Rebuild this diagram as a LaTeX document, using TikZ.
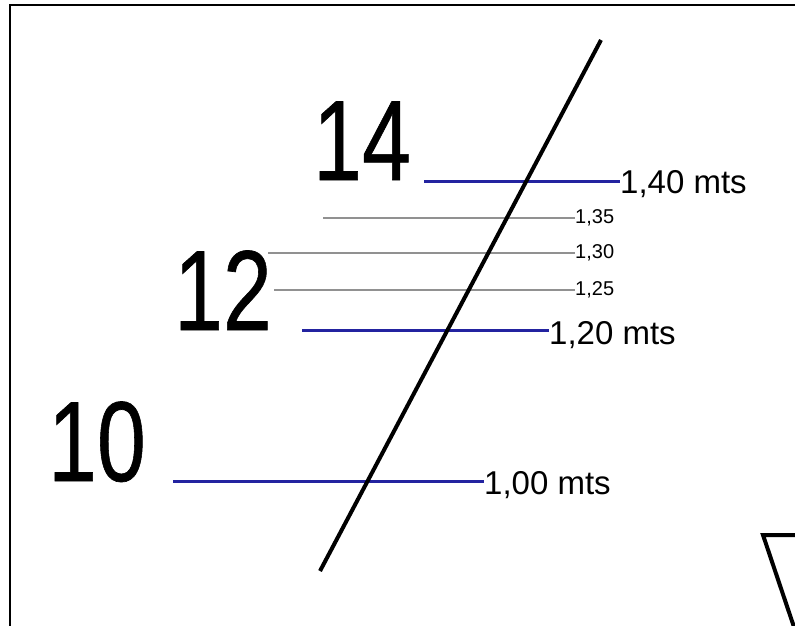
\documentclass[tikz,border=0pt]{standalone}
\usepackage{fontspec}
\setmainfont{Liberation Sans}
\newfontfamily\bignumfont[FakeBold=0.6]{Liberation Sans}
\usepackage{graphicx}
\definecolor{lvlblue}{RGB}{35,35,160}
\definecolor{lvlgray}{RGB}{145,145,145}
\begin{document}
\begin{tikzpicture}[x=1pt,y=-1pt,
  blueline/.style={draw=lvlblue,line width=3pt},
  grayline/.style={draw=lvlgray,line width=2.5pt},
  bignum/.style={anchor=base west,inner sep=0pt,font=\bignumfont\fontsize{114}{114}\selectfont},
  biglab/.style={anchor=base west,inner sep=0pt,font=\fontsize{33}{33}\selectfont},
  smalllab/.style={anchor=base west,inner sep=0pt,font=\fontsize{20}{20}\selectfont},
  frameline/.style={draw=black,line width=2.5pt},
  thickline/.style={draw=black,line width=4pt}]
\useasboundingbox (0,0) rectangle (795,625);
% frame
\coordinate (ftl) at (10,5);
\coordinate (ftr) at (800,5);
\coordinate (fbl) at (10,630);
\draw[frameline] (ftr) -- (ftl) -- (fbl);
% big numbers
\node[bignum] (n14) at (313,180) {\scalebox{0.77}[1]{14}};
\node[bignum] (n12) at (174,330) {\scalebox{0.77}[1]{12}};
\node[bignum] (n10) at (48,481) {\scalebox{0.77}[1]{10}};
% labels
\node[biglab] (l140) at (620,193) {1,40 mts};
\node[biglab] (l120) at (549,344) {1,20 mts};
\node[biglab] (l100) at (484,494) {1,00 mts};
\node[smalllab] (l135) at (575,223) {1,35};
\node[smalllab] (l130) at (575,258) {1,30};
\node[smalllab] (l125) at (575,295) {1,25};
% level lines
\coordinate (b140) at (424,181);
\coordinate (b120) at (302,330);
\coordinate (b100) at (173,481);
\coordinate (g135) at (323,218);
\coordinate (g130) at (268,253);
\coordinate (g125) at (274,290);
\draw[grayline] (g135) -- (g135 -| l135.west);
\draw[grayline] (g130) -- (g130 -| l130.west);
\draw[grayline] (g125) -- (g125 -| l125.west);
\draw[blueline] (b140) -- (b140 -| l140.west);
\draw[blueline] (b120) -- (b120 -| l120.west);
\draw[blueline] (b100) -- (b100 -| l100.west);
% diagonal
\coordinate (dtop) at (601,40);
\coordinate (dbot) at (320,571);
\draw[thickline] (dtop) -- (dbot);
% partial shape bottom right
\coordinate (sc) at (763,535);
\coordinate (sr) at (800,535);
\coordinate (sb) at (795,630);
\draw[thickline] (sr) -- (sc) -- (sb);
\end{tikzpicture}
\end{document}
